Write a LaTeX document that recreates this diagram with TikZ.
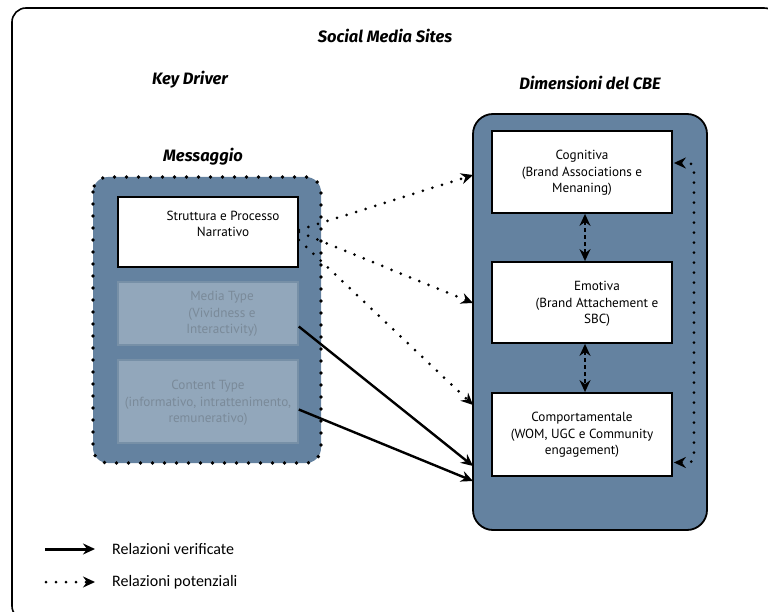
\documentclass[tikz,border=0pt]{standalone}
\usepackage{fontspec}
\setmainfont{PT Sans}
\newfontfamily\headfont{Fira Sans}
\newfontfamily\legendfont{Carlito}
\usetikzlibrary{arrows.meta}
\definecolor{steel}{HTML}{6482A0}
\definecolor{paleblue}{HTML}{92A7BB}
\definecolor{paleedge}{HTML}{7790A7}
\definecolor{paletext}{HTML}{7A8A99}
\begin{document}
\begin{tikzpicture}[x=1pt,y=-1pt,
  tip/.tip={Stealth[length=12pt,width=11pt,inset=4pt]},
  heading/.style={font=\headfont\fontsize{16.5}{18}\selectfont\bfseries\itshape, inner sep=0pt},
  group/.style={fill=steel, rounded corners=15pt},
  whitebox/.style={draw=black, line width=1.8pt, fill=white, inner sep=0pt},
  palebox/.style={draw=paleedge, line width=1.5pt, fill=paleblue, inner sep=0pt},
  boxtext/.style={font=\fontsize{13.2}{16.5}\selectfont, align=center, inner sep=0pt},
  dotline/.style={line width=3pt, line cap=round, dash pattern=on 0pt off 10pt},
  solidarrow/.style={line width=2.4pt, -tip},
  dotarrow/.style={dotline, -tip},
  legendtext/.style={font=\legendfont\fontsize{16}{18}\selectfont, anchor=west, inner sep=0pt}]

\useasboundingbox (0,0) rectangle (768,612);
\clip (0,0) rectangle (768,612);

% outer frame
\draw[line width=1.6pt, rounded corners=14pt] (12,8) rectangle (778,620);

% headings
\node[heading] (site) at (385,36) {Social Media Sites};
\node[heading] (kd) at (190,80) {Key Driver};
\node[heading] (dim) at (590,83) {Dimensioni del CBE};
\node[heading] (msgt) at (203,157) {Messaggio};

% Messaggio group
\path[group] (93,177) rectangle (321,463);
\draw[line width=3.8pt, line cap=round, dash pattern=on 0pt off 12pt, rounded corners=15pt]
  (93,177) rectangle (321,463);
\node[whitebox, minimum width=180, minimum height=70] (s1) at (208,232) {};
\node[palebox, minimum width=180, minimum height=63] (s2) at (208,313.5) {};
\node[palebox, minimum width=180, minimum height=83] (s3) at (208,401.5) {};
\node[boxtext] (s1t) at (223,224) {Struttura e Processo\\Narrativo};
\node[boxtext, text=paletext] (s2t) at (222,314) {Media Type\\(Vividness e\\Interactivity)};
\node[boxtext, text=paletext] (s3t) at (208,403) {Content Type\\(informativo, intrattenimento,\\remunerativo)};

% CBE group
\draw[group, draw=black, line width=1.8pt, rounded corners=20pt] (473,114) rectangle (707,530);
\node[whitebox, minimum width=180, minimum height=82] (c1) at (582,172) {};
\node[whitebox, minimum width=180, minimum height=81] (c2) at (582,302.5) {};
\node[whitebox, minimum width=180, minimum height=83] (c3) at (582,434.5) {};
\node[boxtext] (c1t) at (582,173) {Cognitiva\\(Brand Associations e\\Menaning)};
\node[boxtext] (c2t) at (597,304) {Emotiva\\(Brand Attachement e\\SBC)};
\node[boxtext] (c3t) at (582,435) {Comportamentale\\(WOM, UGC e Community\\engagement)};

% entry points on the CBE group border
\coordinate (e1) at (473,175);
\coordinate (e2) at (473,303);
\coordinate (e3) at (473,405);
\coordinate (e4) at (473,466);
\coordinate (e5) at (473,481);

% relations
\draw[dotarrow] ([yshift=2]s1.east) -- (e1);
\draw[dotarrow] (s1.east) -- (e2);
\draw[dotarrow] ([yshift=-8]s1.east) -- (e3);
\draw[solidarrow] ([yshift=-13]s2.east) -- (e4);
\draw[solidarrow] ([yshift=-8]s3.east) -- (e5);

% links among the CBE dimensions
\draw[line width=1.8pt, dash pattern=on 4pt off 3pt, tip-tip] ([xshift=3]c1.south) -- ([xshift=3]c2.north);
\draw[line width=1.8pt, dash pattern=on 4pt off 3pt, tip-tip] ([xshift=3]c2.south) -- ([xshift=3]c3.north);
\draw[dotline, tip-tip, rounded corners=5pt] ([xshift=1,yshift=9]c1.east) -- ++(20,0) |- ([xshift=1,yshift=-28]c3.east);

% legend
\coordinate (la) at (45,549);
\coordinate (lb) at (95,549);
\coordinate (lc) at (46,582);
\coordinate (ld) at (95,582);
\draw[line width=3pt, -tip] (la) -- (lb);
\draw[dotarrow] (lc) -- (ld);
\node[legendtext] (l1) at (112,549) {Relazioni verificate};
\node[legendtext] (l2) at (112,582) {Relazioni potenziali};
\end{tikzpicture}
\end{document}
